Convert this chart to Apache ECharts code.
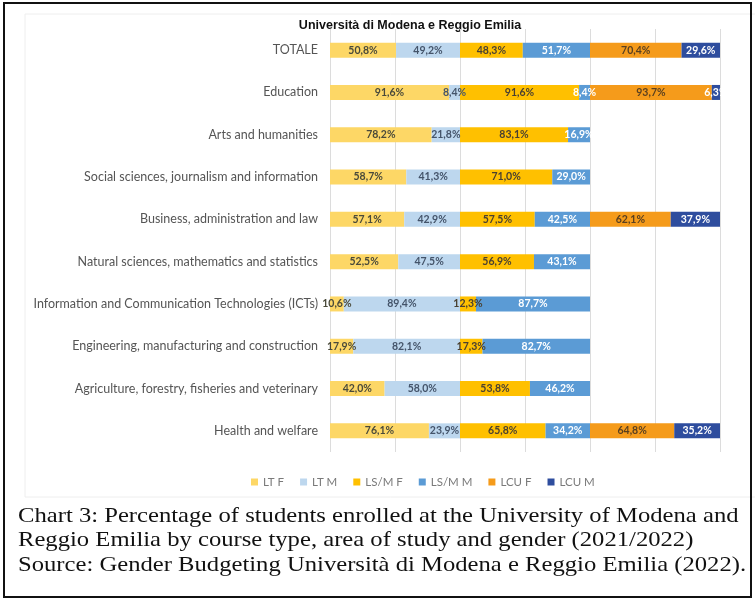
<!DOCTYPE html>
<html>
<head>
<meta charset="utf-8">
<script src="https://cdn.jsdelivr.net/npm/echarts@6/dist/echarts.min.js"></script>
<style>html,body{margin:0;padding:0;background:#fff;}#c{width:755px;height:600px;}</style>
</head>
<body>
<div id="c"></div>
<script>
const categories = [
  'TOTALE',
  'Education',
  'Arts and humanities',
  'Social sciences, journalism and information',
  'Business, administration and law',
  'Natural sciences, mathematics and statistics',
  'Information and Communication Technologies (ICTs)',
  'Engineering, manufacturing and construction',
  'Agriculture, forestry, fisheries and veterinary',
  'Health and welfare'
];
const seriesNames = ['LT F', 'LT M', 'LS/M F', 'LS/M M', 'LCU F', 'LCU M'];
const ltF   = [50.8, 91.6, 78.2, 58.7, 57.1, 52.5, 10.6, 17.9, 42.0, 76.1];
const ltM   = [49.2, 8.4, 21.8, 41.3, 42.9, 47.5, 89.4, 82.1, 58.0, 23.9];
const lsmF  = [48.3, 91.6, 83.1, 71.0, 57.5, 56.9, 12.3, 17.3, 53.8, 65.8];
const lsmM  = [51.7, 8.4, 16.9, 29.0, 42.5, 43.1, 87.7, 82.7, 46.2, 34.2];
const lcuF  = [70.4, 93.7, null, null, 62.1, null, null, null, null, 64.8];
const lcuM  = [29.6, 6.3, null, null, 37.9, null, null, null, null, 35.2];
const xTicks = [0, 50, 100, 150, 200, 250, 300];
const chartTitle = 'Università di Modena e Reggio Emilia';
const captionLines = [
  'Chart 3: Percentage of students enrolled at the University of Modena and',
  'Reggio Emilia by course type, area of study and gender (2021/2022)',
  'Source: Gender Budgeting Università di Modena e Reggio Emilia (2022).'
];

const allData = [ltF, ltM, lsmF, lsmM, lcuF, lcuM];
const colors = ['#FDD766', '#BDD7EE', '#FFC000', '#5B9BD5', '#F59B1B', '#2E4D9E'];
const labelColors = ['#4a4a3a', '#44546A', '#4a4030', '#ffffff', '#5a4020', '#ffffff'];

const chart = echarts.init(document.getElementById('c'), null, {renderer: 'canvas'});
const series = seriesNames.map((n, i) => ({
  name: n,
  type: 'bar',
  stack: 'all',
  barWidth: 15,
  data: allData[i],
  itemStyle: {color: colors[i]},
  label: {
    show: true,
    position: 'inside',
    formatter: p => p.value == null ? '' : p.value.toFixed(1).replace('.', ',') + '%',
    color: labelColors[i],
    fontFamily: 'Lato',
    fontWeight: 'bold',
    fontSize: 10.5
  }
}));

chart.setOption({
  animation: false,
  backgroundColor: '#ffffff',
  grid: {left: 330, width: 390, top: 29, height: 423, containLabel: false},
  xAxis: {
    type: 'value', min: xTicks[0], max: xTicks[xTicks.length - 1], interval: 50,
    axisLabel: {show: false}, axisLine: {show: false}, axisTick: {show: false},
    splitLine: {show: true, lineStyle: {color: '#dcdcdc', width: 1}}
  },
  yAxis: {
    type: 'category', data: categories, inverse: true,
    axisLine: {show: false}, axisTick: {show: false},
    axisLabel: {margin: 12, color: '#555555', fontFamily: 'Lato', fontSize: 12.5}
  },
  legend: {
    data: seriesNames, top: 471, left: 246, icon: 'rect', itemWidth: 7, itemHeight: 7,
    itemGap: 16,
    textStyle: {color: '#7a7a7a', fontFamily: 'Lato', fontSize: 11.5}
  },
  graphic: [
    {type: 'rect', shape: {x: 25, y: 14, width: 740, height: 483}, style: {fill: 'none', stroke: '#eeeeee', lineWidth: 1}, z: -1},
    {type: 'rect', shape: {x: 4, y: 3, width: 747, height: 594}, style: {fill: 'none', stroke: '#111111', lineWidth: 2}},
    {type: 'text', x: 410, y: 26, style: {text: chartTitle, textAlign: 'center', textVerticalAlign: 'middle', font: 'bold 12.5px "Liberation Sans", Arial', fill: '#111111'}},
    ...captionLines.map((t, i) => ({
      type: 'text', x: 18, y: 516 + i * 24.5, scaleX: 1.12,
      style: {text: t, textAlign: 'left', textVerticalAlign: 'middle', font: '22px "Liberation Serif", serif', fill: '#111111'}
    }))
  ],
  series: series
});
</script>
</body>
</html>
